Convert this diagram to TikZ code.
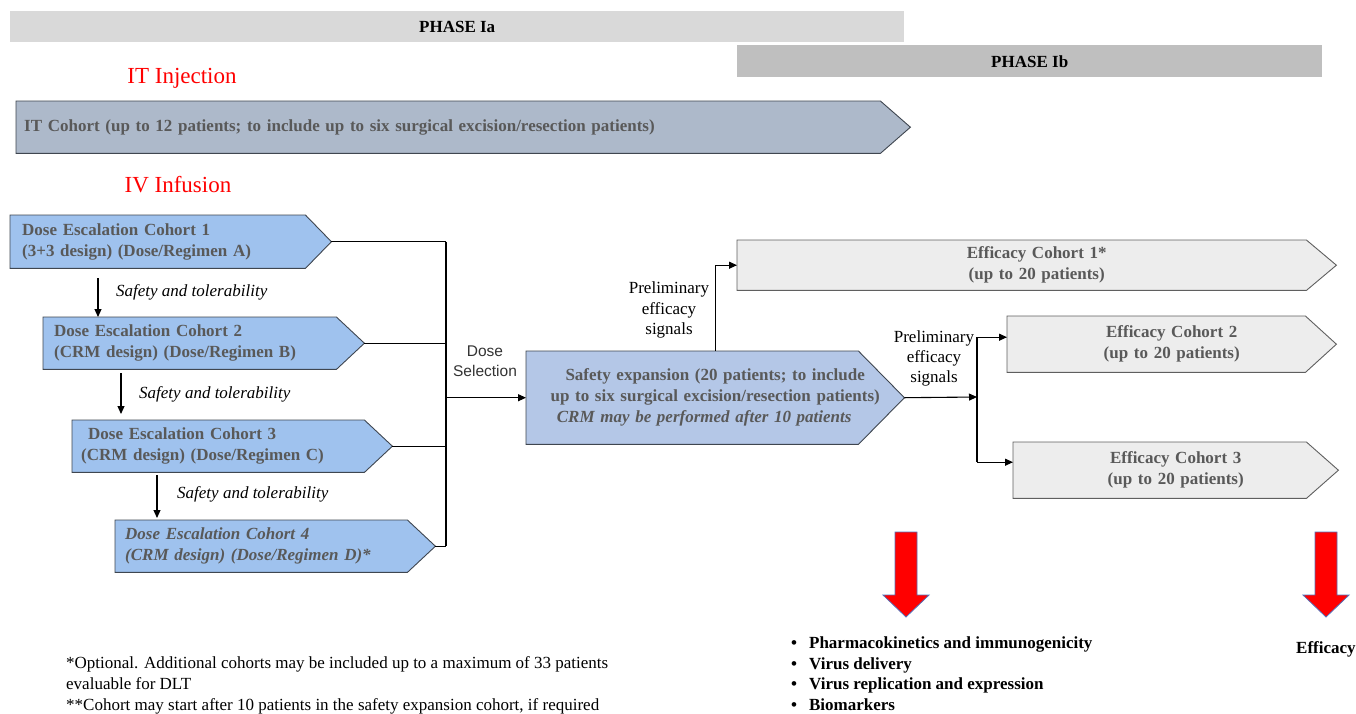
\documentclass[tikz,border=0pt]{standalone}
\usepackage{fontspec}
\setmainfont{Liberation Serif}
\newfontfamily\labelsans{Liberation Sans}
\usetikzlibrary{arrows.meta, backgrounds}
\definecolor{phaseA}{HTML}{D9D9D9}
\definecolor{phaseB}{HTML}{BFBFBF}
\definecolor{itFill}{HTML}{ADB9CA}
\definecolor{doseFill}{HTML}{9FC2EE}
\definecolor{safeFill}{HTML}{B4C7E7}
\definecolor{effFill}{HTML}{EDEDED}
\definecolor{edgeDark}{HTML}{3F4650}
\definecolor{edgeGray}{HTML}{5F5F5F}
\definecolor{textGray}{HTML}{595959}
\definecolor{routeRed}{HTML}{FF0000}
\definecolor{routeEdge}{HTML}{5570B8}
\newcommand{\bodyfont}{\fontsize{17}{21}\selectfont}
\tikzset{
  arrowK/.style={-{Triangle[length=8pt, width=7pt]}, black, line width=1.1pt},
  lineK/.style={black, line width=1.1pt},
  phaseBar/.style={rectangle, anchor=north west, inner sep=0pt,
                   font=\bodyfont\bfseries},
  sectHead/.style={inner sep=0pt, text=red, font=\fontsize{23}{27}\selectfont},
  chevBox/.style={rectangle, anchor=north west, inner sep=0pt,
                  text=textGray, font=\bodyfont\bfseries},
  noteTxt/.style={inner sep=0pt, font=\bodyfont},
  sansTxt/.style={inner sep=0pt, align=center, text=black!80,
                  font=\labelsans\fontsize{15.5}{20}\selectfont},
  redDown/.style={fill=routeRed, draw=routeEdge, line width=0.8pt},
}
\begin{document}
\begin{tikzpicture}[x=1pt, y=-1pt]
  \useasboundingbox (0,0) rectangle (1356,713);

  % phase headers
  \node[phaseBar, fill=phaseA, minimum width=894pt, minimum height=31pt] (phIa) at (10,11) {PHASE Ia};
  \node[phaseBar, fill=phaseB, minimum width=585pt, minimum height=32pt] (phIb) at (737,45) {PHASE Ib};

  \node[sectHead] (itHead) at (182,78) {IT Injection};
  \node[sectHead] (ivHead) at (178,185) {IV Infusion};

  % cohorts (node east = tip of the chevron)
  \node[chevBox, minimum width=894pt, minimum height=52pt, inner xsep=8pt,
        text width=878pt, align=left] (itc) at (16,101)
        {IT Cohort (up to 12 patients; to include up to six surgical excision/resection patients)};
  \node[chevBox, minimum width=321pt, minimum height=53pt, inner xsep=12pt,
        text width=297pt, align=left] (dc1) at (10,215)
        {Dose Escalation Cohort 1\\(3+3 design) (Dose/Regimen A)};
  \node[chevBox, minimum width=321pt, minimum height=52pt, inner xsep=11pt,
        text width=299pt, align=left] (dc2) at (43,317)
        {Dose Escalation Cohort 2\\(CRM design) (Dose/Regimen B)};
  \node[chevBox, minimum width=320pt, minimum height=52pt, inner xsep=9pt,
        text width=302pt, align=left] (dc3) at (72,420)
        {\hspace*{7pt}Dose Escalation Cohort 3\\(CRM design) (Dose/Regimen C)};
  \node[chevBox, minimum width=320pt, minimum height=52pt, inner xsep=10pt,
        text width=300pt, align=left, font=\bodyfont\bfseries\itshape] (dc4) at (115,520)
        {Dose Escalation Cohort 4\\(CRM design) (Dose/Regimen D)*};
  \node[chevBox, minimum width=378pt, minimum height=93pt, text width=378pt,
        align=center] (safe) at (526,351)
        {Safety expansion (20 patients; to include\hspace*{22pt}\\
         up to six surgical excision/resection patients)\hspace*{22pt}\\
         \textit{CRM may be performed after 10 patients}\hspace*{22pt}};
  \node[chevBox, minimum width=599pt, minimum height=50pt, text width=599pt,
        align=center] (ec1) at (737,240) {Efficacy Cohort 1*\\(up to 20 patients)};
  \node[chevBox, minimum width=329pt, minimum height=56pt, text width=329pt,
        align=center] (ec2) at (1007,316) {Efficacy Cohort 2\\(up to 20 patients)};
  \node[chevBox, minimum width=325pt, minimum height=56pt, text width=325pt,
        align=center] (ec3) at (1013,442) {Efficacy Cohort 3\\(up to 20 patients)};

  \begin{scope}[on background layer]
    \foreach \n/\d/\c/\e in {itc/30/itFill/edgeDark, dc1/26/doseFill/edgeDark,
        dc2/28/doseFill/edgeDark, dc3/28/doseFill/edgeDark, dc4/28/doseFill/edgeDark,
        safe/46/safeFill/edgeDark, ec1/30/effFill/edgeGray,
        ec2/31/effFill/edgeGray, ec3/32/effFill/edgeGray}
      \draw[fill=\c, draw=\e, line width=0.9pt] (\n.north west)
        -- ([xshift=-\d pt]\n.north east) -- (\n.east)
        -- ([xshift=-\d pt]\n.south east) -- (\n.south west) -- cycle;
  \end{scope}

  % escalation steps
  \draw[arrowK] ([shift={(88,10)}]dc1.south west) -- ([xshift=55pt]dc2.north west);
  \draw[arrowK] ([shift={(78,4)}]dc2.south west) -- ([shift={(49,-6)}]dc3.north west);
  \draw[arrowK] ([shift={(85,3)}]dc3.south west) -- ([shift={(42,-2)}]dc4.north west);
  \node[noteTxt, anchor=west, font=\bodyfont\itshape] (st1) at (116,292) {Safety and tolerability};
  \node[noteTxt, anchor=west, font=\bodyfont\itshape] (st2) at (139,394) {Safety and tolerability};
  \node[noteTxt, anchor=west, font=\bodyfont\itshape] (st3) at (177,494) {Safety and tolerability};

  % dose selection bus
  \coordinate (bus) at (446,241);
  \draw[lineK] (dc1.east) -- (dc1.east -| bus);
  \draw[lineK] (dc2.east) -- (dc2.east -| bus);
  \draw[lineK] (dc3.east) -- (dc3.east -| bus);
  \draw[lineK] (dc4.east) -- (dc4.east -| bus);
  \draw[lineK] (dc1.east -| bus) -- (dc4.east -| bus);
  \draw[arrowK] (safe.west -| bus) -- (safe.west);
  \node[sansTxt] (dsel) at (485,361) {Dose\\Selection};

  % efficacy branches
  \draw[arrowK] (safe.north) |- (ec1.west);
  \node[noteTxt, align=center, font=\fontsize{17}{20.5}\selectfont] (pe1) at (669,310)
        {Preliminary\\efficacy\\signals};
  \coordinate (split) at (977,397);
  \coordinate (e2in) at ([yshift=7pt]ec2.west);
  \coordinate (e3in) at ([yshift=8pt]ec3.west);
  \draw[arrowK] (safe.east) -- (split);
  \draw[lineK] (split |- e2in) -- (split |- e3in);
  \draw[arrowK] (split |- e2in) -- (e2in);
  \draw[arrowK] (split |- e3in) -- (e3in);
  \node[noteTxt, align=center, font=\fontsize{17}{20}\selectfont] (pe2) at (934,358)
        {Preliminary\\efficacy\\signals};

  % outcome arrows
  \foreach \cx in {906,1326}
    \draw[redDown] (\cx-11,532) -- (\cx+11,532) -- (\cx+11,595) -- (\cx+23,595)
      -- (\cx,617) -- (\cx-23,595) -- (\cx-11,595) -- cycle;
  \node[noteTxt, anchor=west, font=\fontsize{17}{20.4}\selectfont\bfseries] (ends) at (791,675.5)
        {\begin{tabular}{@{}l@{\hspace{12pt}}l@{}}
         \textbullet & Pharmacokinetics and immunogenicity\\
         \textbullet & Virus delivery\\
         \textbullet & Virus replication and expression\\
         \textbullet & Biomarkers
         \end{tabular}};
  \node[noteTxt, anchor=west, font=\bodyfont\bfseries] (effEnd) at (1296,649) {Efficacy};

  % footnotes
  \node[noteTxt, anchor=west, align=left] (fnote) at (66,685)
        {*Optional. Additional cohorts may be included up to a maximum of 33 patients\\
         evaluable for DLT\\
         **Cohort may start after 10 patients in the safety expansion cohort, if required};
\end{tikzpicture}
\end{document}
